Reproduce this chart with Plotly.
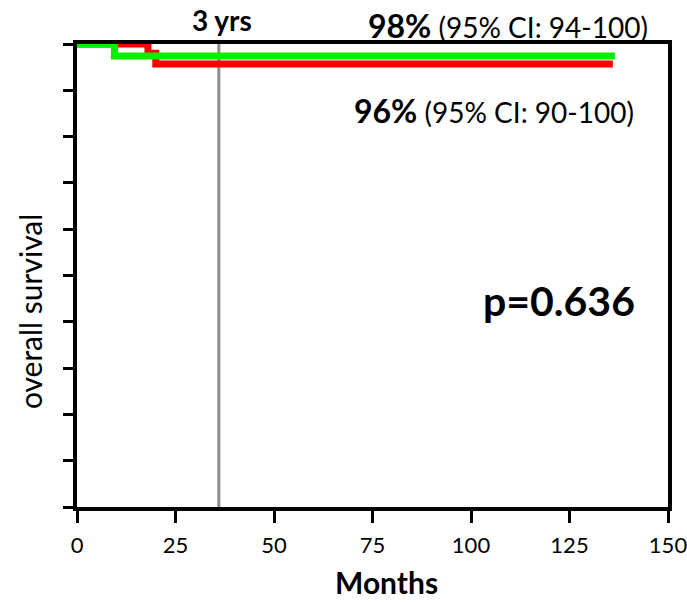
import plotly.graph_objects as go

# Kaplan-Meier step data (months, survival fraction)
red_time = [0, 18, 20, 136]
red_surv = [1.0, 0.98, 0.957, 0.957]
green_time = [0, 9.5, 136.5]
green_surv = [1.0, 0.974, 0.974]

x_ticks = [0, 25, 50, 75, 100, 125, 150]
y_ticks = [0, 0.1, 0.2, 0.3, 0.4, 0.5, 0.6, 0.7, 0.8, 0.9, 1.0]
marker_month = 36

FONT = "Lato"

fig = go.Figure()
fig.add_trace(go.Scatter(x=red_time, y=red_surv, mode="lines",
                         line=dict(color="#ff0000", width=7, shape="hv"),
                         cliponaxis=False, showlegend=False))
fig.add_trace(go.Scatter(x=green_time, y=green_surv, mode="lines",
                         line=dict(color="#00f000", width=7, shape="hv"),
                         cliponaxis=False, showlegend=False))

fig.add_shape(type="line", x0=marker_month, x1=marker_month, y0=-0.013, y1=1,
              xref="x", yref="y", line=dict(color="#8c8c8c", width=3), layer="below")

fig.add_annotation(x=0.2453, y=1.052, xref="paper", yref="paper",
                   xanchor="center", yanchor="middle",
                   text="<b>3 yrs</b>", showarrow=False,
                   font=dict(size=28, color="black", family=FONT))
fig.add_annotation(x=0.9695, y=1.041, xref="paper", yref="paper",
                   xanchor="right", yanchor="middle",
                   text="<b><span style='font-size:32px'>98%</span></b> (95% CI: 94-100)",
                   showarrow=False, font=dict(size=28, color="black", family=FONT))
fig.add_annotation(x=0.946, y=0.857, xref="paper", yref="paper",
                   xanchor="right", yanchor="middle",
                   text="<b><span style='font-size:32px'>96%</span></b> (95% CI: 90-100)",
                   showarrow=False, font=dict(size=28, color="black", family=FONT))
fig.add_annotation(x=0.9475, y=0.447, xref="paper", yref="paper",
                   xanchor="right", yanchor="middle",
                   text="<b>p=0.636</b>", showarrow=False,
                   font=dict(size=41, color="black", family=FONT))
# axis titles
fig.add_annotation(x=0.523, y=-0.163, xref="paper", yref="paper",
                   xanchor="center", yanchor="middle",
                   text="<b>Months</b>", showarrow=False,
                   font=dict(size=30, color="black", family=FONT))
fig.add_annotation(x=-0.0795, y=0.421, xref="paper", yref="paper",
                   xanchor="center", yanchor="middle", textangle=-90,
                   text="overall survival", showarrow=False,
                   font=dict(size=30, color="black", family=FONT))

fig.update_layout(
    width=687, height=602,
    margin=dict(l=77, r=19, t=44, b=95),
    plot_bgcolor="white", paper_bgcolor="white",
    font=dict(family=FONT, color="black"),
    xaxis=dict(range=[0, 150], tickvals=x_ticks, showgrid=False, zeroline=False,
               showline=True, linecolor="black", linewidth=4, mirror=True,
               ticks="outside", ticklen=12, tickwidth=3, tickcolor="black",
               tickfont=dict(size=22, family=FONT), ticklabelstandoff=4,
               ticklabeloverflow="allow", automargin=False),
    yaxis=dict(range=[0, 1], tickvals=y_ticks, showticklabels=False, showgrid=False,
               zeroline=False, showline=True, linecolor="black", linewidth=4, mirror=True,
               ticks="outside", ticklen=10, tickwidth=3, tickcolor="black",
               automargin=False),
)

fig.write_html("out.html")
